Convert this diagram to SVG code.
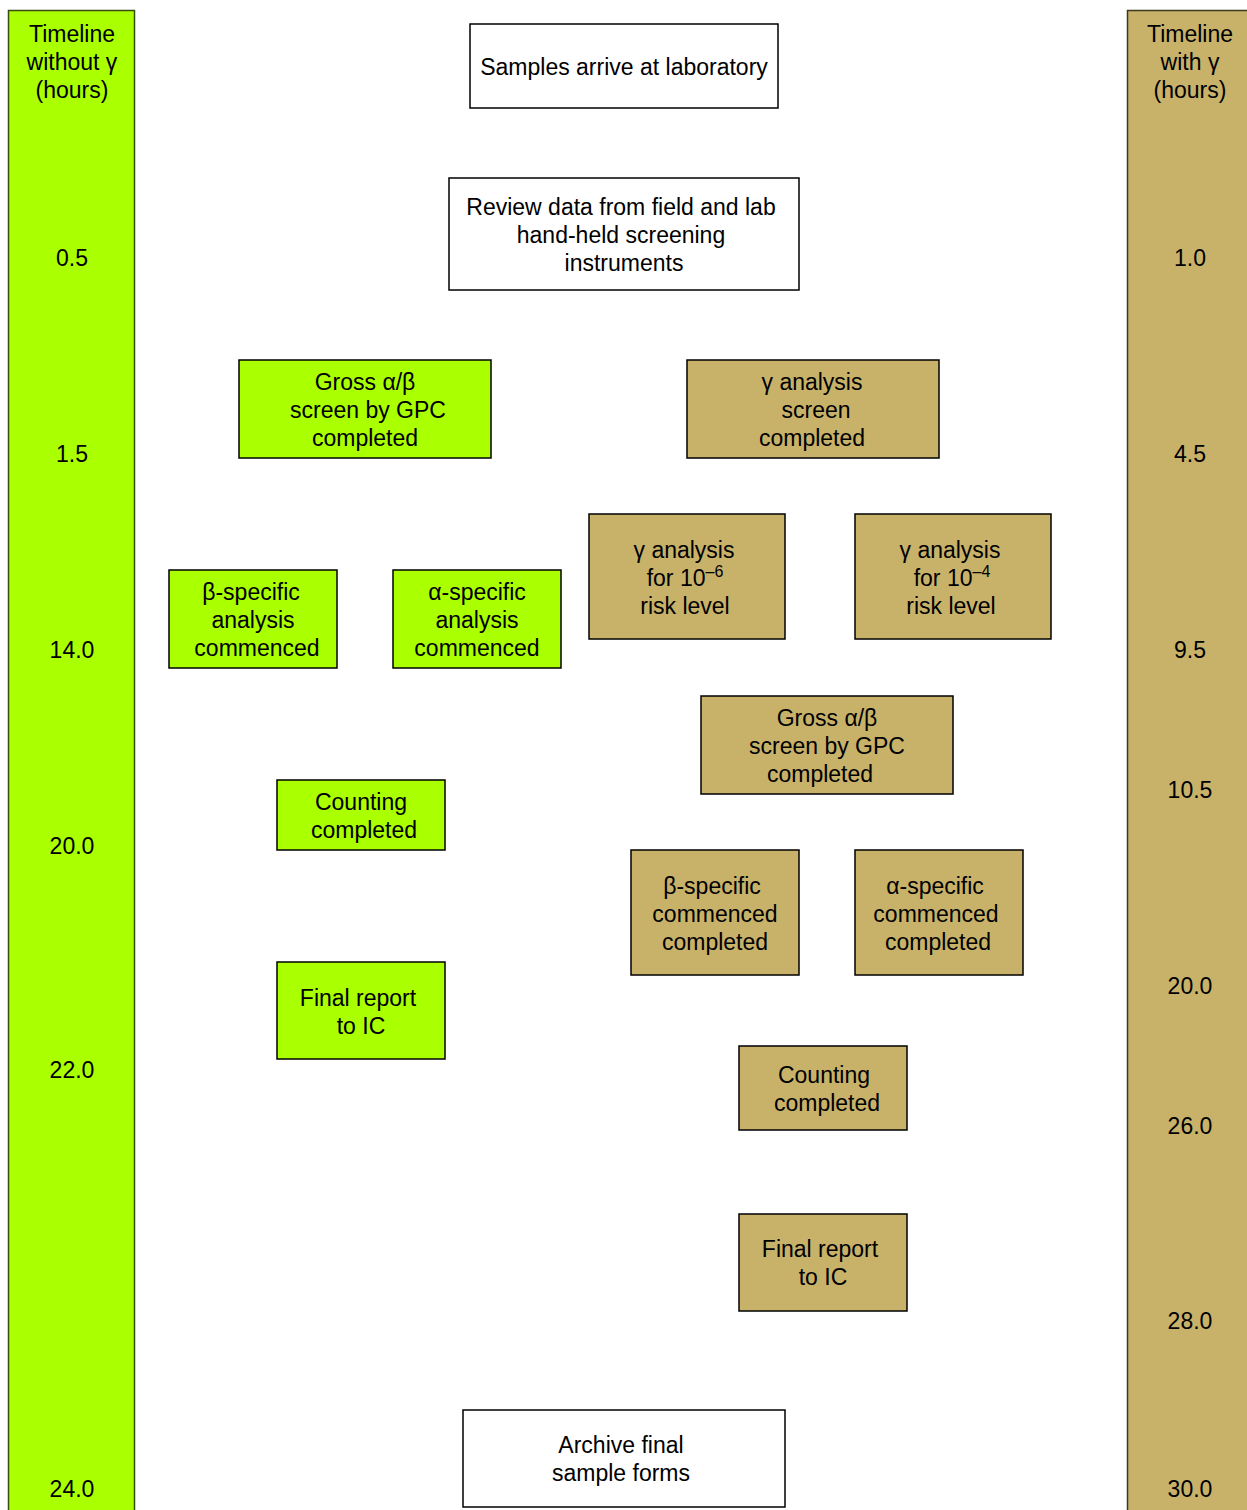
<svg xmlns="http://www.w3.org/2000/svg" width="1247" height="1510" viewBox="0 0 1247 1510">
<style>
text{font-family:"Liberation Sans",Arial,sans-serif;font-size:23px;fill:#000;text-anchor:middle}
.g{fill:#AAFF00;stroke:#000;stroke-width:1.5}
.t{fill:#C8B26A;stroke:#000;stroke-width:1.5}
.w{fill:#fff;stroke:#000;stroke-width:1.5}
.barg{fill:#AAFF00;stroke:#3a4a10;stroke-width:1.5}
.bart{fill:#C8B26A;stroke:#3a3a20;stroke-width:1.5}
</style>
<g id="timeline-left">
<rect class="barg" x="8.5" y="10.5" width="126" height="1510"/>
<text x="72" y="42">Timeline</text>
<text x="72" y="70">without γ</text>
<text x="72" y="98">(hours)</text>
<text x="72" y="266">0.5</text>
<text x="72" y="462">1.5</text>
<text x="72" y="658">14.0</text>
<text x="72" y="854">20.0</text>
<text x="72" y="1078">22.0</text>
<text x="72" y="1497">24.0</text>
</g>
<g id="timeline-right">
<rect class="bart" x="1127.5" y="10.5" width="130" height="1510"/>
<text x="1190" y="42">Timeline</text>
<text x="1190" y="70">with γ</text>
<text x="1190" y="98">(hours)</text>
<text x="1190" y="266">1.0</text>
<text x="1190" y="462">4.5</text>
<text x="1190" y="658">9.5</text>
<text x="1190" y="798">10.5</text>
<text x="1190" y="994">20.0</text>
<text x="1190" y="1134">26.0</text>
<text x="1190" y="1329">28.0</text>
<text x="1190" y="1497">30.0</text>
</g>
<g id="connectors"></g>
<g id="n-samples">
<rect class="w" x="470" y="24" width="308" height="84"/>
<text x="624" y="75">Samples arrive at laboratory</text>
</g>
<g id="n-review">
<rect class="w" x="449" y="178" width="350" height="112"/>
<text x="621" y="215">Review data from field and lab</text>
<text x="621" y="243">hand-held screening</text>
<text x="624" y="271">instruments</text>
</g>
<g id="n-gross-g">
<rect class="g" x="239" y="360" width="252" height="98"/>
<text x="365" y="390">Gross α/β</text>
<text x="368" y="418">screen by GPC</text>
<text x="365" y="446">completed</text>
</g>
<g id="n-gscreen">
<rect class="t" x="687" y="360" width="252" height="98"/>
<text x="812" y="390">γ analysis</text>
<text x="816" y="418">screen</text>
<text x="812" y="446">completed</text>
</g>
<g id="n-g6">
<rect class="t" x="589" y="514" width="196" height="125"/>
<text x="684" y="558">γ analysis</text>
<text x="685" y="586">for 10<tspan font-size="16" dy="-9">–6</tspan></text>
<text x="685" y="614">risk level</text>
</g>
<g id="n-g4">
<rect class="t" x="855" y="514" width="196" height="125"/>
<text x="950" y="558">γ analysis</text>
<text x="952" y="586">for 10<tspan font-size="16" dy="-9">–4</tspan></text>
<text x="951" y="614">risk level</text>
</g>
<g id="n-beta-g">
<rect class="g" x="169" y="570" width="168" height="98"/>
<text x="251" y="600">β-specific</text>
<text x="253" y="628">analysis</text>
<text x="257" y="656">commenced</text>
</g>
<g id="n-alpha-g">
<rect class="g" x="393" y="570" width="168" height="98"/>
<text x="477" y="600">α-specific</text>
<text x="477" y="628">analysis</text>
<text x="477" y="656">commenced</text>
</g>
<g id="n-gross-t">
<rect class="t" x="701" y="696" width="252" height="98"/>
<text x="827" y="726">Gross α/β</text>
<text x="827" y="754">screen by GPC</text>
<text x="820" y="782">completed</text>
</g>
<g id="n-count-g">
<rect class="g" x="277" y="780" width="168" height="70"/>
<text x="361" y="810">Counting</text>
<text x="364" y="838">completed</text>
</g>
<g id="n-beta-t">
<rect class="t" x="631" y="850" width="168" height="125"/>
<text x="712" y="894">β-specific</text>
<text x="715" y="922">commenced</text>
<text x="715" y="950">completed</text>
</g>
<g id="n-alpha-t">
<rect class="t" x="855" y="850" width="168" height="125"/>
<text x="935" y="894">α-specific</text>
<text x="936" y="922">commenced</text>
<text x="938" y="950">completed</text>
</g>
<g id="n-final-g">
<rect class="g" x="277" y="962" width="168" height="97"/>
<text x="358" y="1006">Final report</text>
<text x="361" y="1034">to IC</text>
</g>
<g id="n-count-t">
<rect class="t" x="739" y="1046" width="168" height="84"/>
<text x="824" y="1083">Counting</text>
<text x="827" y="1111">completed</text>
</g>
<g id="n-final-t">
<rect class="t" x="739" y="1214" width="168" height="97"/>
<text x="820" y="1257">Final report</text>
<text x="823" y="1285">to IC</text>
</g>
<g id="n-archive">
<rect class="w" x="463" y="1410" width="322" height="97"/>
<text x="621" y="1453">Archive final</text>
<text x="621" y="1481">sample forms</text>
</g>
</svg>
